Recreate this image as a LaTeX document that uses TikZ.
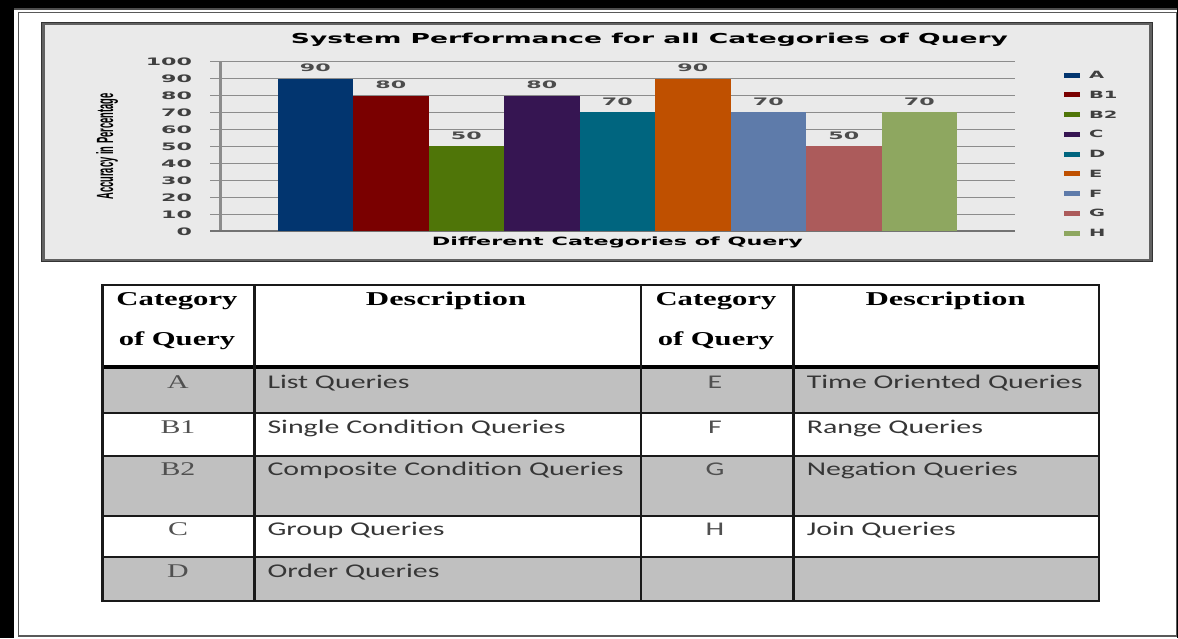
\documentclass[tikz,border=0pt]{standalone}
\usepackage{fontspec}
\usepackage{graphicx}
\newfontfamily\dvs{DejaVu Sans}
\newfontfamily\calib{Carlito}
\newfontfamily\lserif{Liberation Serif}
\newfontfamily\lsans{Liberation Sans}
\newcommand\chs[1]{\scalebox{2.15}[1]{\dvs\bfseries\fontsize{10.3}{12}\selectfont #1}}
\newcommand\bodyt[1]{\scalebox{1.54}[1]{\calib\fontsize{19.4}{22}\selectfont #1}}
\newcommand\seriflet[1]{\scalebox{1.54}[1]{\lserif\fontsize{19.4}{22}\selectfont #1}}
\newcommand\headt[2]{\resizebox{#1}{\height}{\lserif\bfseries\fontsize{19.6}{22}\selectfont #2}}
\definecolor{cA}{HTML}{02356F}
\definecolor{cBa}{HTML}{7A0000}
\definecolor{cBb}{HTML}{4F7508}
\definecolor{cC}{HTML}{361552}
\definecolor{cD}{HTML}{00657F}
\definecolor{cE}{HTML}{BF5000}
\definecolor{cF}{HTML}{5E7BAA}
\definecolor{cG}{HTML}{AC5B5B}
\definecolor{cH}{HTML}{8EA760}
\definecolor{chartbg}{HTML}{EAEAEA}
\definecolor{rowgrey}{HTML}{C0C0C0}
\definecolor{gridc}{HTML}{8C8C8C}
\definecolor{bodyc}{HTML}{363636}
\definecolor{letc}{HTML}{505050}
\tikzset{
  txt/.style={inner sep=0pt, outer sep=0pt},
  gridline/.style={draw=gridc, line width=0.8pt},
  tline/.style={draw=black!90, line width=2pt},
}
\begin{document}
\begin{tikzpicture}[x=1pt,y=-1pt]
\useasboundingbox (0,0) rectangle (1178,638);
\fill[white] (0,0) rectangle (1178,638);
% outer frame
\fill[black] (0,0) rectangle (1178,8);
\fill[black!70] (0,8) rectangle (1178,10);
\fill[black] (0,0) rectangle (13.5,638);
\draw[draw=black!65, line width=1.5pt] (18.5,12.5) rectangle (1176.5,636);
\draw[draw=black, line width=1pt] (1177.5,0) -- (1177.5,638);
% chart box
\fill[chartbg] (42,22.5) rectangle (1151.5,261);
\draw[draw=black!62, line width=3pt] (43,23) rectangle (1150.5,260);
\draw[draw=black!80, line width=0.8pt] (41.5,22) rectangle (1152,261.5);
% title
\node[txt, anchor=base] (title) at (649.5,43.5) {\resizebox{717pt}{\height}{\dvs\bfseries\fontsize{13.7}{16}\selectfont System Performance for all Categories of Query}};
% gridlines and ticks
\foreach \k in {0,...,10}{
  \draw[gridline] (210,{231-16.93*\k}) -- (1015,{231-16.93*\k});
  \pgfmathtruncatemacro\lab{10*\k}
  \node[txt, anchor=east, text=black!75] (tick\k) at (192,{231.5-16.93*\k}) {\chs{\lab}};
}
\draw[draw=gridc, line width=2.5pt] (220.5,61.7) -- (220.5,231);
\draw[draw=black!55, line width=1.2pt] (210,231) -- (1015,231);
% bars
\foreach \v/\c/\i in {90/cA/0,80/cBa/1,50/cBb/2,80/cC/3,70/cD/4,90/cE/5,70/cF/6,50/cG/7,70/cH/8}{
  \fill[\c] ({277.5+75.5*\i},{231-1.693*\v}) rectangle ({277.5+75.5*(\i+1)},231);
  \node[txt, text=black!70] (val\i) at ({277.5+75.5*\i+37.75},{231-1.693*\v-10.5}) {\chs{\v}};
}
% axis titles
\node[txt, anchor=base] (xtitle) at (617.5,245) {\resizebox{371pt}{\height}{\dvs\bfseries\fontsize{11.4}{13}\selectfont Different Categories of Query}};
\node[txt, anchor=base, rotate=90] (ytitle) at (113,146.5) {\resizebox{106pt}{17pt}{\lsans\bfseries Accuracy in Percentage}};
% legend
\foreach \c/\t/\i in {cA/A/0,cBa/B1/1,cBb/B2/2,cC/C/3,cD/D/4,cE/E/5,cF/F/6,cG/G/7,cH/H/8}{
  \fill[\c] (1064,{75+19.75*\i-2.5}) rectangle (1080,{75+19.75*\i+2.5});
  \node[txt, anchor=west, text=black!75] (leg\i) at (1089,{75+19.75*\i}) {\scalebox{1.95}[1]{\dvs\bfseries\fontsize{10}{12}\selectfont \t}};
}
% table fills
\fill[rowgrey] (102.5,367) rectangle (1099,413);
\fill[rowgrey] (102.5,456) rectangle (1099,516);
\fill[rowgrey] (102.5,557) rectangle (1099,601);
% table lines
\foreach \yy in {285,413,456,516,557,601}{
  \draw[tline] (102.5,\yy) -- (1099,\yy);
}
\draw[draw=black, line width=3.5pt] (102.5,367) -- (1099,367);
\foreach \xx in {102.5,254.5,641,793.5,1099}{
  \draw[draw=black!90, line width=2.5pt] (\xx,284) -- (\xx,602);
}
% headers
\node[txt, anchor=base] (h1a) at (177,305) {\headt{121pt}{Category}};
\node[txt, anchor=base] (h1b) at (177,345) {\headt{116.5pt}{of Query}};
\node[txt, anchor=base] (h2) at (446,305) {\headt{160pt}{Description}};
\node[txt, anchor=base] (h3a) at (716,305) {\headt{121pt}{Category}};
\node[txt, anchor=base] (h3b) at (716,345) {\headt{116.5pt}{of Query}};
\node[txt, anchor=base] (h4) at (945.6,305) {\headt{160pt}{Description}};
% left half rows
\node[txt, anchor=base, text=letc] (cA) at (178,388.5) {\seriflet{A}};
\node[txt, anchor=base, text=letc] (cB1) at (178,433) {\seriflet{B1}};
\node[txt, anchor=base, text=letc] (cB2) at (178,475.5) {\seriflet{B2}};
\node[txt, anchor=base, text=letc] (cC) at (178,535.5) {\seriflet{C}};
\node[txt, anchor=base, text=letc] (cD) at (178,577) {\seriflet{D}};
\node[txt, anchor=base west, text=bodyc] (dA) at (267.5,388.5) {\bodyt{List Queries}};
\node[txt, anchor=base west, text=bodyc] (dB1) at (267.5,433) {\bodyt{Single Condition Queries}};
\node[txt, anchor=base west, text=bodyc] (dB2) at (267.5,475.5) {\bodyt{Composite Condition Queries}};
\node[txt, anchor=base west, text=bodyc] (dC) at (267.5,535.5) {\bodyt{Group Queries}};
\node[txt, anchor=base west, text=bodyc] (dD) at (267.5,577) {\bodyt{Order Queries}};
% right half rows
\node[txt, anchor=base, text=letc] (cE) at (715,388.5) {\bodyt{E}};
\node[txt, anchor=base, text=letc] (cF) at (715,433) {\bodyt{F}};
\node[txt, anchor=base, text=letc] (cG) at (715,475.5) {\bodyt{G}};
\node[txt, anchor=base, text=letc] (cH) at (715,535.5) {\bodyt{H}};
\node[txt, anchor=base west, text=bodyc] (dE) at (806.8,388.5) {\bodyt{Time Oriented Queries}};
\node[txt, anchor=base west, text=bodyc] (dF) at (806.8,433) {\bodyt{Range Queries}};
\node[txt, anchor=base west, text=bodyc] (dG) at (806.8,475.5) {\bodyt{Negation Queries}};
\node[txt, anchor=base west, text=bodyc] (dH) at (806.8,535.5) {\bodyt{Join Queries}};
\end{tikzpicture}
\end{document}
